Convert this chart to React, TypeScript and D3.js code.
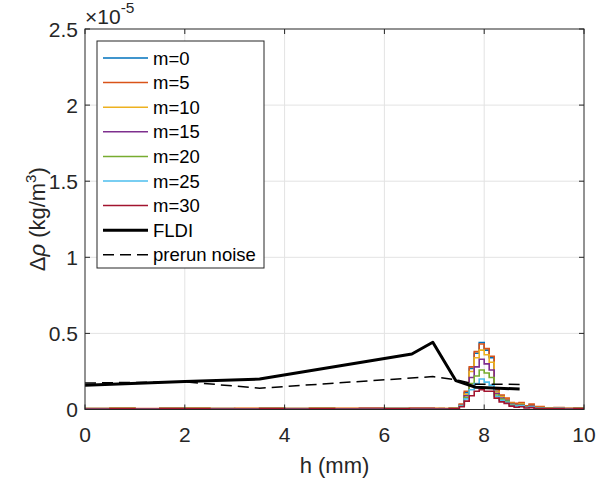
import React from "react";
import * as d3 from "d3";

const hGrid = [0, 0.5, 1, 1.5, 2, 2.5, 3, 3.5, 4, 4.5, 5, 5.5, 6, 6.5, 7, 7.1, 7.2, 7.3, 7.4, 7.5, 7.6, 7.7, 7.8, 7.9, 8.0, 8.1, 8.2, 8.3, 8.4, 8.5, 8.6, 8.7, 8.8, 8.9, 9.0, 9.2, 9.4, 9.6, 9.8, 10];

const m0 = [0.006, 0.007, 0.005, 0.006, 0.007, 0.006, 0.005, 0.006, 0.006, 0.007, 0.005, 0.006, 0.006, 0.006, 0.005, 0.006, 0.005, 0.006, 0.007,
  0.03, 0.11, 0.27, 0.37, 0.44, 0.39, 0.34, 0.12, 0.09, 0.07, 0.04, 0.035, 0.04, 0.02, 0.03, 0.015,
  0.008, 0.01, 0.006, 0.008, 0.006];
const m5 = [0.007, 0.010, 0.006, 0.009, 0.010, 0.007, 0.008, 0.010, 0.006, 0.009, 0.008, 0.010, 0.007, 0.009, 0.008, 0.008, 0.007, 0.009, 0.009,
  0.035, 0.12, 0.28, 0.38, 0.43, 0.40, 0.35, 0.13, 0.095, 0.075, 0.045, 0.04, 0.045, 0.025, 0.035, 0.02,
  0.01, 0.013, 0.008, 0.01, 0.007];
const m10 = [0.006, 0.008, 0.005, 0.007, 0.008, 0.006, 0.006, 0.007, 0.006, 0.008, 0.006, 0.007, 0.006, 0.007, 0.006, 0.006, 0.006, 0.007, 0.008,
  0.03, 0.10, 0.25, 0.34, 0.39, 0.36, 0.31, 0.115, 0.085, 0.065, 0.04, 0.03, 0.035, 0.018, 0.025, 0.012,
  0.008, 0.009, 0.006, 0.007, 0.006];
const m15 = [0.005, 0.007, 0.005, 0.006, 0.007, 0.005, 0.005, 0.006, 0.005, 0.007, 0.005, 0.006, 0.006, 0.006, 0.005, 0.005, 0.005, 0.006, 0.007,
  0.028, 0.09, 0.21, 0.28, 0.33, 0.30, 0.26, 0.105, 0.075, 0.06, 0.035, 0.028, 0.03, 0.016, 0.022, 0.01,
  0.007, 0.008, 0.005, 0.006, 0.005];
const m20 = [0.005, 0.006, 0.004, 0.006, 0.006, 0.005, 0.004, 0.006, 0.005, 0.006, 0.004, 0.005, 0.006, 0.005, 0.004, 0.005, 0.004, 0.006, 0.006,
  0.025, 0.08, 0.17, 0.22, 0.26, 0.24, 0.21, 0.095, 0.068, 0.055, 0.032, 0.025, 0.028, 0.015, 0.02, 0.01,
  0.006, 0.007, 0.005, 0.006, 0.005];
const m25 = [0.004, 0.005, 0.004, 0.005, 0.005, 0.004, 0.004, 0.005, 0.004, 0.005, 0.004, 0.004, 0.005, 0.004, 0.004, 0.004, 0.004, 0.005, 0.005,
  0.022, 0.07, 0.13, 0.17, 0.20, 0.18, 0.16, 0.085, 0.06, 0.048, 0.028, 0.022, 0.025, 0.013, 0.018, 0.008,
  0.005, 0.006, 0.004, 0.005, 0.004];
const m30 = [0.003, 0.004, 0.003, 0.004, 0.004, 0.003, 0.003, 0.004, 0.003, 0.004, 0.003, 0.003, 0.004, 0.003, 0.003, 0.003, 0.003, 0.004, 0.004,
  0.018, 0.055, 0.09, 0.12, 0.13, 0.12, 0.12, 0.075, 0.05, 0.04, 0.022, 0.015, 0.018, 0.01, 0.012, 0.006,
  0.004, 0.004, 0.003, 0.004, 0.003];

const fldiH = [0, 2, 3.5, 6.55, 6.97, 7.43, 7.83, 8.71];
const fldiV = [0.16, 0.184, 0.2, 0.365, 0.442, 0.19, 0.146, 0.134];
const noiseH = [0, 2, 3.5, 6.97, 7.43, 7.83, 8.71];
const noiseV = [0.174, 0.182, 0.14, 0.216, 0.195, 0.166, 0.165];

const seriesNames = ["m=0", "m=5", "m=10", "m=15", "m=20", "m=25", "m=30"];
const seriesValues = [m0, m5, m10, m15, m20, m25, m30];
const seriesColors = ["#0072BD", "#D95319", "#EDB120", "#7E2F8E", "#77AC30", "#4DBEEE", "#A2142F"];

const xTicks = [0, 2, 4, 6, 8, 10];
const yTicks = [0, 0.5, 1, 1.5, 2, 2.5];

const W = 614, H = 485;
const L = 85, R = 584, T = 29, B = 409.5;
const FONT = "'Liberation Sans', Arial, Helvetica, sans-serif";
const AX = "#262626";

export default function App() {
  const x = d3.scaleLinear().domain([0, 10]).range([L, R]);
  const y = d3.scaleLinear().domain([0, 2.5]).range([B, T]);
  const stepLine = d3.line<number>().x((_, i) => x(hGrid[i])).y((d) => y(d)).curve(d3.curveStepAfter);
  const lin = d3.line<[number, number]>().x((d) => x(d[0])).y((d) => y(d[1]));
  const fldi = fldiH.map((h, i) => [h, fldiV[i]] as [number, number]);
  const noise = noiseH.map((h, i) => [h, noiseV[i]] as [number, number]);

  const legX = 97, legY = 41, legW = 167, legH = 227;
  const entries = [
    ...seriesNames.map((n, i) => ({ name: n, color: seriesColors[i], w: 1.5, dash: undefined as string | undefined })),
    { name: "FLDI", color: "#000", w: 3, dash: undefined },
    { name: "prerun noise", color: "#000", w: 1.5, dash: "11,6" },
  ];
  const rowY = (i: number) => 58 + i * 24.6;

  return (
    <svg width={W} height={H} style={{ position: "absolute", left: 0, top: 0, background: "#fff" }} fontFamily={FONT}>
      <rect x={0} y={0} width={W} height={H} fill="#fff" />
      <defs>
        <clipPath id="plotclip">
          <rect x={L} y={T} width={R - L} height={B - T} />
        </clipPath>
      </defs>
      {xTicks.slice(1, -1).map((t) => (
        <line key={"gx" + t} x1={x(t)} x2={x(t)} y1={T} y2={B} stroke="#e3e3e3" strokeWidth={1} />
      ))}
      {yTicks.slice(1, -1).map((t) => (
        <line key={"gy" + t} x1={L} x2={R} y1={y(t)} y2={y(t)} stroke="#e3e3e3" strokeWidth={1} />
      ))}
      <g clipPath="url(#plotclip)" fill="none">
        {seriesValues.map((vals, i) => (
          <path key={seriesNames[i]} d={stepLine(vals) || ""} stroke={seriesColors[i]} strokeWidth={1.6} />
        ))}
        <path d={lin(fldi) || ""} stroke="#000" strokeWidth={3} strokeLinejoin="round" />
        <path d={lin(noise) || ""} stroke="#000" strokeWidth={1.5} strokeDasharray="11,6" />
      </g>
      <rect x={L} y={T} width={R - L} height={B - T} fill="none" stroke={AX} strokeWidth={1} />
      {xTicks.map((t) => (
        <g key={"tx" + t}>
          <line x1={x(t)} x2={x(t)} y1={B} y2={B - 5} stroke={AX} />
          <line x1={x(t)} x2={x(t)} y1={T} y2={T + 5} stroke={AX} />
          <text x={x(t)} y={B + 32} textAnchor="middle" fontSize={21} fill={AX}>{t}</text>
        </g>
      ))}
      {yTicks.map((t) => (
        <g key={"ty" + t}>
          <line x1={L} x2={L + 5} y1={y(t)} y2={y(t)} stroke={AX} />
          <line x1={R} x2={R - 5} y1={y(t)} y2={y(t)} stroke={AX} />
          <text x={L - 7} y={y(t) + 7.5} textAnchor="end" fontSize={21} fill={AX}>{t}</text>
        </g>
      ))}
      <text x={85} y={24} fontSize={21} fill={AX}>
        ×10<tspan dy={-11} fontSize={15.5}>-5</tspan>
      </text>
      <text x={(L + R) / 2} y={473} textAnchor="middle" fontSize={22} fill={AX}>h (mm)</text>
      <text transform={`translate(45,${(T + B) / 2}) rotate(-90)`} textAnchor="middle" fontSize={22} fill={AX}>
        Δ<tspan fontStyle="italic">ρ</tspan> (kg/m<tspan dy={-9} fontSize={15}>3</tspan><tspan dy={9}>)</tspan>
      </text>
      <rect x={legX} y={legY} width={legW} height={legH} fill="#fff" stroke={AX} strokeWidth={1} />
      {entries.map((e, i) => (
        <g key={"leg" + i}>
          <line x1={103} x2={148} y1={rowY(i)} y2={rowY(i)} stroke={e.color} strokeWidth={e.w} strokeDasharray={e.dash} />
          <text x={153} y={rowY(i) + 6.5} fontSize={18.5} fill="#000">{e.name}</text>
        </g>
      ))}
    </svg>
  );
}
